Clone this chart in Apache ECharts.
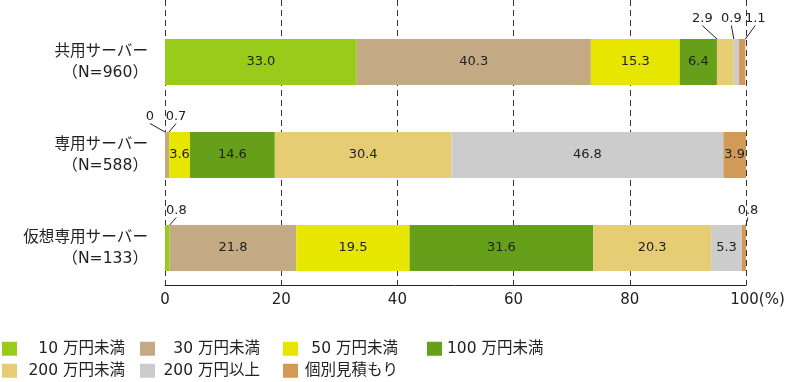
<!DOCTYPE html>
<html><head><meta charset="utf-8">
<script src="https://cdn.jsdelivr.net/npm/echarts@6/dist/echarts.min.js"></script>
<style>html,body{margin:0;padding:0;background:#fff}#c{width:800px;height:382px}</style>
</head><body><div id="c"></div>
<script>
const categories = ['共用サーバー\n（N=960）', '専用サーバー\n（N=588）', '仮想専用サーバー\n（N=133）'];
const seriesNames = ['10 万円未満', '30 万円未満', '50 万円未満', '100 万円未満', '200 万円未満', '200 万円以上', '個別見積もり'];
const v10 = [33.0, 0, 0.8];
const v30 = [40.3, 0.7, 21.8];
const v50 = [15.3, 3.6, 19.5];
const v100 = [6.4, 14.6, 31.6];
const v200u = [2.9, 30.4, 20.3];
const v200o = [0.9, 46.8, 5.3];
const vInd = [1.1, 3.9, 0.8];
const xTicks = [0, 20, 40, 60, 80, 100];

const colors = ['#99CC1A', '#C4AA84', '#E6E600', '#66A01A', '#E6CC73', '#CCCCCC', '#D19B57'];
const values = [v10, v30, v50, v100, v200u, v200o, vInd];
const FONT = '"DejaVu Sans", "Noto Sans CJK JP", sans-serif';

// label layout only: key "row-series" -> [dx from segment center, dy from bar top]
const outside = {
  '0-4': [-23, -20], '0-5': [-5, -20], '0-6': [13, -20],
  '1-0': [-15, -15], '1-1': [9, -15],
  '2-0': [9, -14], '2-6': [4, -14]
};

const series = values.map((arr, si) => ({
  name: seriesNames[si], type: 'bar', stack: 'all', xAxisIndex: 0, yAxisIndex: 0,
  barWidth: 46,
  itemStyle: { color: colors[si] },
  label: { show: true, position: 'inside', color: '#222', fontSize: 13, fontFamily: FONT,
    formatter: p => p.value === 0 ? '0' : p.value.toFixed(1) },
  labelLine: { show: false, lineStyle: { color: '#222', width: 1 } },
  data: arr.map((v, ri) => outside[ri + '-' + si]
    ? { value: v, labelLine: { show: true, lineStyle: { color: '#222', width: 1 } } }
    : v),
  labelLayout: function (params) {
    const key = params.dataIndex + '-' + params.seriesIndex;
    const o = outside[key];
    if (!o) return {};
    const r = params.rect;
    return { x: r.x + r.width / 2 + o[0], y: r.y + o[1], align: 'center', verticalAlign: 'middle' };
  }
}));
series.push({ type: 'line', xAxisIndex: 1, yAxisIndex: 1, data: [], silent: true });

function legendCol(left, names, w) {
  return {
    left: left, top: 341, orient: 'vertical', padding: 0, data: names, itemWidth: 15, itemHeight: 14, itemGap: 6.5,
    icon: 'rect', selectedMode: false,
    formatter: n => '{t|' + n + '}',
    textStyle: { color: '#222', fontSize: 15.5, fontFamily: FONT,
      rich: { t: { width: w || undefined, align: w ? 'right' : 'left', fontSize: 15.5, lineHeight: 15, color: '#222', fontFamily: FONT } } }
  };
}

const option = {
  animation: false,
  textStyle: { fontFamily: FONT },
  grid: [
    { left: 165, right: 54, top: 15.5, height: 279 },
    { left: 165, right: 54, top: 0, bottom: 97 }
  ],
  xAxis: [
    { gridIndex: 0, type: 'value', min: 0, max: 100, show: false },
    { gridIndex: 1, type: 'value', min: xTicks[0], max: xTicks[xTicks.length - 1], interval: 20,
      axisLine: { show: true, lineStyle: { color: '#222', width: 1 } },
      axisTick: { show: false },
      splitLine: { show: true, lineStyle: { color: '#333', width: 1, type: [6, 4] } },
      axisLabel: { color: '#222', fontSize: 15, margin: 8, fontFamily: FONT,
        formatter: v => v === 100 ? '{s|}{n|100}{n|(%)}' : String(v),
        rich: { s: { width: 23 }, n: { fontSize: 15, color: '#222', fontFamily: FONT } } }
    }
  ],
  yAxis: [
    { gridIndex: 0, type: 'category', data: categories, inverse: true,
      axisLine: { show: false }, axisTick: { show: false },
      axisLabel: { color: '#222', fontSize: 15.6, lineHeight: 21, margin: 17, align: 'right', fontFamily: FONT } },
    { gridIndex: 1, type: 'value', show: false }
  ],
  legend: [
    legendCol(2, [seriesNames[0], seriesNames[4]], 103),
    legendCol(140, [seriesNames[1], seriesNames[5]], 100),
    legendCol(283, [seriesNames[2], seriesNames[6]], 95),
    legendCol(427, [seriesNames[3]], 0)
  ],
  series: series
};
const chart = echarts.init(document.getElementById('c'));
chart.setOption(option);
</script></body></html>
